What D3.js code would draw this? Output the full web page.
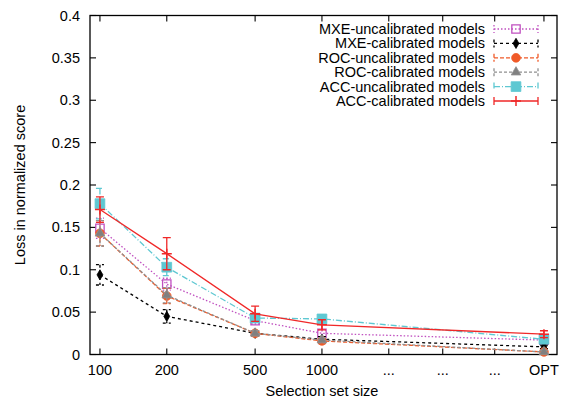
<!DOCTYPE html>
<html>
<head>
<meta charset="utf-8">
<script src="https://cdn.jsdelivr.net/npm/d3@7/dist/d3.min.js"></script>
<style>
  body { margin: 0; background: #fff; }
  svg { font-family: "Liberation Sans", Arial, sans-serif; }
</style>
</head>
<body>
<svg id="chart" width="562" height="400"></svg>
<script>
// selection set sizes (OPT placed at the far right)
const sizes = [100, 200, 500, 1000, 10000];
const xTickValues = [100, 200, 500, 1000, 2000, 3500, 6000, 10000];
const xTickLabels = ["100", "200", "500", "1000", "...", "...", "...", "OPT"];
const yTickValues = [0, 0.05, 0.1, 0.15, 0.2, 0.25, 0.3, 0.35, 0.4];
const yTickLabels = ["0", "0.05", "0.1", "0.15", "0.2", "0.25", "0.3", "0.35", "0.4"];

const seriesNames = [
  "MXE-uncalibrated models", "MXE-calibrated models",
  "ROC-uncalibrated models", "ROC-calibrated models",
  "ACC-uncalibrated models", "ACC-calibrated models"
];
const mxeUncal = [0.149, 0.083, 0.040, 0.025, 0.017];
const mxeUncalErr = [0.012, 0.007, 0.004, 0.004, 0.003];
const mxeCal = [0.094, 0.045, 0.025, 0.018, 0.009];
const mxeCalErr = [0.012, 0.008, 0.003, 0.003, 0.002];
const rocUncal = [0.143, 0.069, 0.025, 0.016, 0.003];
const rocUncalErr = [0.015, 0.009, 0.003, 0.003, 0.002];
const rocCal = [0.143, 0.070, 0.025, 0.017, 0.003];
const rocCalErr = [0.015, 0.009, 0.003, 0.003, 0.002];
const accUncal = [0.178, 0.103, 0.043, 0.042, 0.018];
const accUncalErr = [0.018, 0.010, 0.004, 0.005, 0.004];
const accCal = [0.171, 0.119, 0.048, 0.035, 0.024];
const accCalErr = [0.015, 0.019, 0.009, 0.006, 0.004];

const styles = [
  { color: "#c050c0", dash: "1.5,2", symbol: "square", fill: "none", size: 70 },
  { color: "#000000", dash: "3,3", symbol: "diamond", fill: "#000", size: 30 },
  { color: "#f05a28", dash: "4,2", symbol: "circle", fill: "#f05a28", size: 60 },
  { color: "#909090", dash: "3,2", symbol: "triangle", fill: "#808080", size: 40 },
  { color: "#5ec8d2", dash: "6,2,1,2", symbol: "square", fill: "#5ec8d2", size: 95 },
  { color: "#f02828", dash: null, symbol: "cross", fill: "#f02828", size: 0 }
];

const series = [
  [mxeUncal, mxeUncalErr], [mxeCal, mxeCalErr],
  [rocUncal, rocUncalErr], [rocCal, rocCalErr],
  [accUncal, accUncalErr], [accCal, accCalErr]
].map(([vals, errs], i) => ({
  name: seriesNames[i],
  style: styles[i],
  points: vals.map((v, j) => ({ x: sizes[j], y: v, e: errs[j] }))
}));

const L = 90, R = 557, T = 15.5, B = 354.5;
const x = d3.scaleLog().domain([90.2, 11450]).range([L, R]);
const y = d3.scaleLinear().domain([0, 0.4]).range([B, T]);

const svg = d3.select("#chart");

// frame
svg.append("rect")
  .attr("x", L).attr("y", T).attr("width", R - L).attr("height", B - T)
  .attr("fill", "none").attr("stroke", "#000").attr("stroke-width", 1.3);

// ticks on all four sides, pointing inwards
const tickG = svg.append("g").attr("stroke", "#000").attr("stroke-width", 1.1);
tickG.selectAll(".xb").data(xTickValues).join("line")
  .attr("x1", d => x(d)).attr("x2", d => x(d)).attr("y1", B).attr("y2", B - 6);
tickG.selectAll(".xt").data(xTickValues).join("line")
  .attr("x1", d => x(d)).attr("x2", d => x(d)).attr("y1", T).attr("y2", T + 6);
tickG.selectAll(".yl").data(yTickValues).join("line")
  .attr("y1", d => y(d)).attr("y2", d => y(d)).attr("x1", L).attr("x2", L + 6);
tickG.selectAll(".yr").data(yTickValues).join("line")
  .attr("y1", d => y(d)).attr("y2", d => y(d)).attr("x1", R).attr("x2", R - 6);

// tick labels
svg.append("g").selectAll("text").data(xTickValues).join("text")
  .attr("x", d => x(d)).attr("y", 375)
  .attr("text-anchor", "middle").attr("font-size", 14.5)
  .text((d, i) => xTickLabels[i]);
svg.append("g").selectAll("text").data(yTickValues).join("text")
  .attr("x", 80).attr("y", d => y(d) + 5)
  .attr("text-anchor", "end").attr("font-size", 14.5)
  .text((d, i) => yTickLabels[i]);

// axis titles
svg.append("text").attr("x", 322).attr("y", 396)
  .attr("text-anchor", "middle").attr("font-size", 14.5)
  .text("Selection set size");
svg.append("text")
  .attr("transform", "translate(25,185) rotate(-90)")
  .attr("text-anchor", "middle").attr("font-size", 14.5)
  .text("Loss in normalized score");

function marker(g, s, cx, cy) {
  if (s.symbol === "cross") {
    g.append("path")
      .attr("d", `M${cx - 5},${cy}H${cx + 5}M${cx},${cy - 5}V${cy + 5}`)
      .attr("stroke", s.color).attr("stroke-width", 1.5);
    return;
  }
  const types = {
    square: d3.symbolSquare, diamond: d3.symbolDiamond,
    circle: d3.symbolCircle, triangle: d3.symbolTriangle
  };
  g.append("path")
    .attr("d", d3.symbol(types[s.symbol], s.size)())
    .attr("transform", `translate(${cx},${cy})`)
    .attr("fill", s.fill)
    .attr("stroke", s.color)
    .attr("stroke-width", s.fill === "none" ? 1.3 : 0.8);
}

const line = d3.line().x(d => x(d.x)).y(d => y(d.y));

series.forEach(sr => {
  const s = sr.style;
  const g = svg.append("g");
  g.append("path").datum(sr.points)
    .attr("d", line).attr("fill", "none")
    .attr("stroke", s.color).attr("stroke-width", 1.3)
    .attr("stroke-dasharray", s.dash);
  // error bars
  g.selectAll(".err").data(sr.points).join("path")
    .attr("d", d => {
      const cx = x(d.x), y1 = y(d.y + d.e), y2 = y(d.y - d.e);
      return `M${cx},${y1}V${y2}M${cx - 4},${y1}H${cx + 4}M${cx - 4},${y2}H${cx + 4}`;
    })
    .attr("fill", "none").attr("stroke", s.color).attr("stroke-width", 1.3)
    .attr("stroke-dasharray", s.dash);
  sr.points.forEach(d => marker(g, s, x(d.x), y(d.y)));
});

// legend
const legend = svg.append("g");
series.forEach((sr, i) => {
  const s = sr.style;
  const ly = 29 + i * 14.4;
  legend.append("text").attr("x", 485).attr("y", ly + 5)
    .attr("text-anchor", "end").attr("font-size", 14.5).text(sr.name);
  legend.append("path")
    .attr("d", `M494,${ly}H538M494,${ly - 4}V${ly + 4}M538,${ly - 4}V${ly + 4}`)
    .attr("fill", "none").attr("stroke", s.color).attr("stroke-width", 1.3)
    .attr("stroke-dasharray", s.dash);
  marker(legend, s, 516, ly);
});
</script>
</body>
</html>
